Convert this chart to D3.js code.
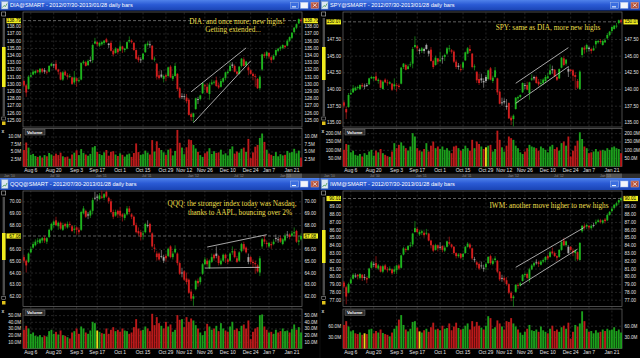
<!DOCTYPE html>
<html>
<head>
<meta charset="utf-8">
<script src="https://cdnjs.cloudflare.com/ajax/libs/d3/7.8.5/d3.min.js"></script>
<style>
body { margin: 0; background: #000; }
svg { display: block; }
</style>
</head>
<body>
<svg id="chart" width="640" height="358"></svg>
<script>
// trading days shown, 2012/08/01 - 2013/01/28
var dates = [
    "08/01","08/02","08/03","08/06","08/07","08/08","08/09","08/10","08/13","08/14","08/15","08/16","08/17","08/20","08/21","08/22","08/23","08/24","08/27","08/28","08/29","08/30","08/31",
    "09/04","09/05","09/06","09/07","09/10","09/11","09/12","09/13","09/14","09/17","09/18","09/19","09/20","09/21","09/24","09/25","09/26","09/27","09/28",
    "10/01","10/02","10/03","10/04","10/05","10/08","10/09","10/10","10/11","10/12","10/15","10/16","10/17","10/18","10/19","10/22","10/23","10/24","10/25","10/26","10/31",
    "11/01","11/02","11/05","11/06","11/07","11/08","11/09","11/12","11/13","11/14","11/15","11/16","11/19","11/20","11/21","11/23","11/26","11/27","11/28","11/29","11/30",
    "12/03","12/04","12/05","12/06","12/07","12/10","12/11","12/12","12/13","12/14","12/17","12/18","12/19","12/20","12/21","12/24","12/26","12/27","12/28","12/31",
    "01/02","01/03","01/04","01/07","01/08","01/09","01/10","01/11","01/14","01/15","01/16","01/17","01/18","01/22","01/23","01/24","01/25","01/28"
]
var tickDates = ["08/06","08/20","09/04","09/17","10/01","10/15","10/31","11/12","11/26","12/10","12/24","01/07","01/22"]
var tickLabels = ["Aug 6","Aug 20","Sep 3","Sep 17","Oct 1","Oct 15","Oct 29","Nov 12","Nov 26","Dec 10","Dec 24","Jan 7","Jan 21"]
var stripLabels = ["Jan '10","Jul '10","Jan '11","Jul '11","Jan '12","Jul '12","Jan '13"]

// DIA
var diaOpen = [130.4,129.8,129.3,131.0,131.3,131.5,131.9,131.6,132.1,131.9,131.7,131.7,132.5,132.6,132.8,132.0,131.6,130.6,131.7,131.2,
    131.0,130.9,130.2,130.8,130.4,130.6,132.9,133.0,132.6,133.3,133.3,135.6,135.8,135.3,135.5,135.7,136.2,135.4,135.7,134.6,
    134.3,134.9,134.6,135.2,134.7,134.9,135.9,136.0,135.7,134.7,133.7,133.4,133.4,134.4,135.4,135.5,135.3,133.4,132.8,131.2,
    131.3,130.7,131.2,131.1,132.4,130.7,131.1,131.4,129.4,128.3,128.3,128.1,127.8,125.8,125.4,126.5,127.9,127.9,128.7,129.8,
    129.6,128.6,130.0,130.2,130.5,129.8,129.6,130.3,130.8,131.5,131.8,132.7,132.5,131.7,131.4,132.5,133.4,132.6,132.3,131.9,
    131.4,131.1,130.7,129.4,132.0,134.1,133.9,134.3,133.7,133.4,134.0,134.6,134.9,135.0,135.3,135.3,136.0,136.4,137.2,137.8,
    138.4,138.9]
var diaHigh = [130.6,130.0,131.2,131.6,132.0,131.9,132.0,132.2,132.2,132.2,131.9,132.6,132.9,132.8,133.3,132.1,131.7,131.8,131.9,131.5,
    131.4,131.0,131.8,130.9,130.9,133.0,133.3,133.2,133.4,133.8,135.6,136.4,135.9,135.8,136.0,136.1,136.4,135.7,136.0,134.8,
    135.1,134.9,135.8,135.3,135.0,135.9,136.6,136.2,135.8,134.8,134.0,133.7,134.3,135.6,135.9,136.0,135.4,133.8,132.9,131.8,
    131.9,131.3,131.4,132.4,132.6,131.4,132.9,131.5,129.6,128.7,128.6,128.6,128.0,126.0,126.0,128.1,128.2,128.5,130.2,130.0,
    130.1,130.2,130.6,130.5,131.0,130.2,130.7,130.9,131.7,131.9,133.0,133.0,132.7,131.8,132.5,133.6,133.7,133.2,132.6,132.0,
    131.6,131.4,130.8,131.2,134.2,134.4,134.6,134.4,133.9,134.1,134.8,135.0,135.3,135.5,135.4,136.2,136.6,137.2,137.9,138.4,
    139.1,139.1]
var diaLow = [129.6,128.2,129.2,130.9,131.2,131.3,131.5,131.3,131.5,131.4,131.3,131.6,132.4,132.2,131.9,131.3,130.5,130.4,131.1,130.6,
    130.8,129.9,129.9,129.6,130.2,130.5,132.7,132.4,132.5,133.0,132.9,135.5,135.2,135.1,135.3,135.4,135.7,135.0,134.5,133.8,
    134.2,134.1,134.5,134.3,134.4,134.8,135.7,135.6,134.6,133.4,133.0,132.9,133.3,134.3,135.2,135.0,133.3,133.1,130.6,130.6,
    130.8,130.2,130.4,131.0,130.8,130.4,131.0,129.0,128.0,127.9,127.8,127.3,125.6,124.9,124.7,126.4,127.2,127.7,128.6,129.2,
    128.7,127.8,129.8,129.9,129.6,129.3,129.5,130.1,130.5,131.3,131.7,132.2,131.6,131.2,131.3,132.3,132.4,132.4,131.2,131.3,
    130.5,129.6,129.3,129.1,131.8,133.6,133.5,133.5,132.9,133.3,133.8,134.4,134.6,134.8,134.9,135.2,135.8,136.2,137.0,137.6,
    138.3,138.5]
var diaClose = [129.8,128.8,131.0,131.2,131.7,131.8,131.7,132.1,131.7,131.7,131.6,132.5,132.8,132.7,132.0,131.7,130.6,131.6,131.2,131.0,
    131.1,130.0,130.9,130.4,130.5,132.9,133.1,132.5,133.2,133.3,135.4,135.9,135.5,135.7,135.8,136.0,135.8,135.6,134.6,134.1,
    134.9,134.4,135.2,134.8,134.9,135.8,136.1,135.8,134.7,133.5,133.3,133.3,134.2,135.5,135.6,135.5,133.4,133.5,131.0,130.8,
    131.0,131.1,131.0,132.3,130.9,131.1,132.5,129.3,128.1,128.2,128.2,127.6,125.7,125.4,125.9,128.0,127.9,128.4,130.1,129.7,
    128.8,129.9,130.2,130.3,129.7,129.5,130.4,130.8,131.6,131.7,132.5,132.5,131.7,131.4,132.4,133.5,132.5,133.1,131.9,131.4,
    131.1,131.0,129.4,131.0,134.1,133.9,134.4,133.8,133.3,133.9,134.7,134.9,135.1,135.4,135.1,136.0,136.5,137.1,137.8,138.3,
    139.0,138.79]
var diaVol = [5.5,8.0,6.3,3.9,4.2,3.5,3.2,3.6,3.0,3.8,3.4,4.5,4.0,3.6,4.3,3.8,4.6,3.4,3.1,3.3,
    2.6,4.0,4.6,5.4,3.8,5.8,4.5,4.0,3.6,4.2,6.4,6.8,4.9,4.2,3.8,4.7,5.5,3.6,4.9,5.1,
    4.0,3.5,4.4,3.9,3.3,4.0,4.3,3.2,4.5,7.7,4.8,3.9,4.1,5.3,4.6,4.0,8.8,5.0,8.4,6.2,
    5.5,4.7,3.9,5.6,6.0,3.7,5.2,12.2,7.9,6.3,4.1,6.4,9.0,8.8,7.2,6.0,4.9,3.8,3.2,4.4,
    5.0,6.1,4.2,5.1,4.5,4.7,5.6,4.0,4.4,3.7,5.8,6.7,4.3,5.0,4.6,5.9,6.3,4.9,9.2,2.8,
    4.7,6.6,7.2,9.5,11.0,8.2,5.6,4.3,3.9,3.5,4.8,3.4,4.1,3.7,3.9,5.2,4.6,4.8,5.9,4.4,
    5.3,3.0]
var diaFlat = []
var diaTicks = [125,126,127,128,129,130,131,132,133,134,135,136,137,138]
var diaVolTicks = [2.5,5,7.5,10]
var diaTrend = [[["11/15",128.9],["12/20",135.0]], [["11/16",124.6],["12/24",133.2]]]
var diaNotes = ["DIA: and once more, new highs!", "Getting extended..."]

// SPY
var spyOpen = [138.0,137.0,137.3,139.2,139.5,139.8,140.2,140.0,140.6,140.5,140.6,140.7,141.6,141.6,141.9,141.2,141.3,140.0,141.4,141.0,
    140.8,140.8,140.4,140.6,140.5,140.8,143.3,143.6,143.0,143.6,143.8,146.3,146.4,145.7,145.7,145.7,146.6,145.3,145.9,144.2,
    143.6,144.6,144.2,144.6,144.8,145.3,146.0,145.8,145.6,144.1,143.5,143.0,143.2,144.3,145.3,146.0,145.3,143.3,142.6,141.5,
    141.6,141.0,141.8,141.5,143.1,141.2,141.8,141.6,139.6,138.0,138.2,137.3,137.9,135.7,135.5,137.0,138.6,138.8,139.5,140.6,
    140.6,139.4,141.4,141.8,141.8,141.1,140.8,140.9,141.2,141.6,142.2,143.0,142.9,141.8,141.6,143.2,144.6,143.8,142.6,142.9,
    142.8,142.1,141.2,140.0,145.1,146.2,146.0,146.0,146.0,145.8,146.7,147.0,147.2,146.6,147.0,147.6,148.1,148.7,149.0,149.4,
    149.9,150.3]
var spyHigh = [138.3,137.4,139.4,139.9,140.6,140.4,140.5,140.7,140.9,140.8,140.9,141.7,142.0,141.9,142.5,141.6,141.4,141.3,141.6,141.4,
    141.2,140.9,141.6,140.9,140.8,143.3,143.9,143.8,143.7,144.1,146.3,147.9,146.6,146.1,146.3,146.2,146.8,145.9,146.3,144.4,
    145.0,144.6,145.6,145.0,145.3,146.3,146.6,146.0,145.8,144.4,143.9,143.7,144.1,145.6,146.3,146.6,145.4,143.7,142.6,142.3,
    142.3,141.6,142.1,142.9,143.3,142.0,143.3,141.7,139.8,138.7,138.6,138.5,138.0,136.0,136.2,138.8,139.0,139.2,141.0,140.9,
    141.1,141.1,142.2,142.0,142.0,141.5,141.5,141.6,142.1,142.4,143.7,143.5,143.0,142.0,143.1,144.8,144.9,144.5,143.4,143.0,
    143.0,142.5,141.5,142.8,146.3,146.5,146.8,146.4,146.2,146.5,147.3,147.4,147.5,147.4,147.6,148.4,148.7,149.4,149.6,149.9,
    150.4,150.5]
var spyLow = [137.2,135.5,137.2,139.1,139.4,139.7,139.9,139.9,140.2,140.0,140.3,140.6,141.5,141.2,141.2,140.8,140.1,139.9,140.9,140.5,
    140.7,139.7,139.9,139.6,140.0,140.7,143.0,142.8,142.9,143.3,143.1,146.1,145.6,145.2,145.4,145.3,145.9,144.9,144.1,143.0,
    143.5,143.7,144.0,143.8,144.2,145.1,145.6,145.3,143.9,143.0,142.9,142.6,142.9,144.2,145.2,145.4,143.1,142.8,140.9,140.6,
    140.9,140.2,140.9,141.3,141.3,140.9,141.6,139.1,137.7,137.5,137.7,136.9,135.5,134.6,134.4,136.9,137.9,138.6,139.4,140.0,
    139.8,138.4,141.2,141.3,140.8,140.4,140.4,140.6,140.9,141.5,142.1,142.3,141.8,141.2,141.5,143.1,143.4,143.5,141.8,142.5,
    141.2,139.9,140.0,139.9,144.7,145.3,145.5,145.6,145.3,145.7,146.1,146.8,146.8,146.5,146.9,147.5,147.9,148.4,148.9,149.1,
    149.7,149.8]
var spyClose = [137.5,136.5,139.1,139.4,140.1,140.2,140.3,140.6,140.4,140.4,140.6,141.6,141.8,141.8,141.3,141.4,140.2,141.1,141.0,140.9,
    141.0,139.9,140.7,140.5,140.3,143.2,143.8,142.9,143.4,143.7,146.0,146.6,146.1,145.9,146.1,146.0,146.0,145.7,144.2,143.3,
    144.7,144.1,144.4,144.6,145.1,146.1,146.1,145.6,144.1,143.3,143.3,142.9,144.0,145.5,146.1,145.7,143.3,143.4,141.3,140.9,
    141.3,141.2,141.2,142.8,141.4,141.7,142.8,139.5,137.8,138.0,138.0,137.5,135.6,135.3,136.0,138.7,138.8,139.1,140.9,140.6,
    139.9,141.0,141.6,141.6,140.9,140.7,140.9,141.4,141.8,141.9,142.8,142.8,141.9,141.4,143.0,144.7,143.6,144.4,143.0,142.7,
    142.0,141.8,140.2,142.6,146.2,145.9,146.6,146.2,145.7,146.1,147.2,147.2,147.1,147.2,147.3,148.1,148.6,149.3,149.5,149.5,
    150.3,150.07]
var spyVol = [100,135,130,85,95,70,65,75,60,80,70,90,100,65,95,85,105,80,70,62,
    58,90,140,110,130,145,125,110,95,120,200,180,110,95,90,105,140,90,125,150,
    110,120,105,120,100,110,95,80,120,125,110,95,105,125,110,95,160,110,150,135,
    120,105,115,125,130,90,105,215,160,115,90,125,180,170,160,125,110,85,75,90,
    110,130,120,115,110,95,120,110,100,85,120,130,105,115,95,140,150,125,180,60,
    95,125,155,205,165,120,110,80,85,90,105,90,95,100,95,110,100,115,120,110,
    105,80]
var spyFlat = [62]
var spyTicks = [135,137.5,140,142.5,145,147.5]
var spyVolTicks = [50,100,150,200]
var spyTrend = [[["11/19",140.86],["12/21",146.2]], [["11/19",137.86],["12/21",143.35]]]
var spyNotes = ["SPY: same as DIA, more new highs"]

// QQQ
var qqqOpen = [65.3,65.0,64.9,65.7,66.1,66.3,66.6,66.5,66.7,66.9,66.6,67.0,67.6,68.0,68.4,67.9,68.2,67.6,68.1,67.8,
    68.1,67.9,67.6,67.8,67.6,67.6,69.0,69.2,68.9,68.8,69.2,70.3,70.4,70.2,70.4,70.3,70.8,70.3,70.0,69.1,
    68.8,69.2,69.2,68.9,68.6,68.9,69.4,68.9,68.7,68.0,67.5,67.4,67.2,67.4,68.0,68.1,67.3,66.1,65.6,65.6,
    65.4,65.0,65.4,65.4,66.2,65.3,65.7,65.6,64.8,64.0,64.1,63.5,63.4,62.4,61.8,62.6,63.3,63.2,63.9,64.7,
    65.0,64.4,64.9,65.5,65.6,65.4,64.7,65.0,65.5,65.1,65.0,65.7,65.8,65.2,65.0,65.8,66.4,66.1,64.9,65.3,
    64.9,64.8,64.6,64.0,66.2,66.8,66.5,66.2,66.4,66.4,66.9,66.8,66.9,66.4,66.7,67.2,67.2,67.1,67.3,67.5,
    66.6,66.8]
var qqqHigh = [65.5,65.1,65.7,66.2,66.6,66.8,66.9,66.9,67.0,67.1,67.0,67.7,68.2,68.4,68.7,68.3,68.3,68.2,68.2,68.3,
    68.3,68.0,68.0,67.9,67.8,69.2,69.6,69.3,69.1,69.3,70.3,70.8,70.6,70.7,70.9,70.7,70.9,70.4,70.2,69.3,
    69.3,69.3,69.5,69.0,69.0,69.6,69.6,69.0,68.8,68.2,67.8,67.6,67.5,68.2,68.4,68.2,67.4,66.4,65.8,65.7,
    65.9,65.5,65.6,66.1,66.3,65.8,66.3,65.7,64.9,64.4,64.2,64.0,63.5,62.6,62.2,63.4,63.5,63.7,64.8,65.3,
    65.2,65.1,65.6,65.6,66.2,65.5,65.2,65.6,65.6,65.2,65.7,66.2,66.0,65.4,65.8,66.5,66.6,66.2,65.6,65.4,
    65.1,65.0,64.7,65.4,66.9,67.1,66.7,66.6,66.6,66.8,67.2,67.0,67.1,66.9,67.3,67.5,67.3,67.5,67.8,67.6,
    67.1,67.3]
var qqqLow = [64.8,64.0,64.8,65.6,66.0,66.2,66.4,66.4,66.5,66.5,66.4,66.9,67.5,67.8,67.9,67.6,67.6,67.5,67.7,67.7,
    67.8,67.4,67.3,67.2,67.2,67.5,68.9,68.6,68.5,68.6,68.9,70.1,70.0,70.1,70.2,70.1,70.3,69.8,69.0,68.5,
    68.7,68.6,68.6,68.3,68.4,68.8,68.9,68.5,67.9,67.3,67.1,66.7,66.8,67.3,67.8,67.3,66.1,65.7,65.0,65.0,
    65.2,64.8,64.9,65.3,65.2,65.1,65.6,64.6,63.8,63.6,63.3,63.0,62.2,61.6,61.2,62.5,62.8,63.0,63.8,64.6,
    64.5,64.3,64.8,65.0,65.2,64.6,64.6,64.9,64.8,64.7,64.9,65.5,65.2,64.8,64.9,65.7,65.8,65.6,64.7,64.7,
    64.4,63.9,64.0,63.7,66.0,66.4,66.1,66.1,66.0,66.3,66.6,66.5,66.5,66.3,66.6,66.9,66.8,67.0,67.1,66.5,
    66.3,66.7]
var qqqClose = [65.0,64.6,65.6,66.0,66.4,66.6,66.7,66.8,66.9,66.7,66.9,67.6,68.1,68.3,68.0,68.2,67.7,68.0,67.9,68.1,
    68.0,67.5,67.7,67.6,67.4,69.1,69.4,68.7,68.8,69.2,70.1,70.3,70.3,70.5,70.3,70.6,70.4,70.0,69.1,68.7,
    69.1,68.9,68.8,68.7,68.9,69.4,69.1,68.7,68.0,67.4,67.3,67.0,67.3,68.1,68.0,67.4,66.2,66.0,65.3,65.1,
    65.4,65.3,65.2,66.0,65.3,65.6,66.0,64.8,63.9,64.0,63.4,63.2,62.3,61.8,62.0,63.3,63.1,63.6,64.7,65.1,
    64.7,65.0,65.3,65.2,65.4,64.8,65.0,65.5,65.2,64.9,65.6,65.8,65.3,64.9,65.7,66.4,66.0,65.7,65.3,64.9,
    64.8,64.7,64.1,65.2,66.8,66.6,66.4,66.5,66.3,66.6,66.9,66.8,66.6,66.8,67.1,67.2,67.0,67.3,67.4,66.6,
    66.7,67.08]
var qqqVol = [28,34,30,22,24,19,18,20,17,19,18,26,28,22,25,21,27,20,19,17,
    15,24,26,30,22,33,30,24,22,27,40,38,27,25,23,22,30,22,28,32,
    26,28,25,30,27,26,22,24,32,44,30,27,28,33,30,26,52,35,47,38,
    34,30,40,33,36,25,28,50,43,44,32,47,40,45,42,35,30,24,20,26,
    37,33,28,30,34,26,38,30,27,25,33,40,28,30,26,34,36,30,42,14,
    25,30,32,50,51,33,28,24,25,22,28,24,26,30,26,27,24,29,36,28,
    32,24]
var qqqFlat = [32]
var qqqTicks = [62,63,64,65,66,68,69,70]
var qqqVolTicks = [10,20,30,40,50]
var qqqTrend = [[["11/27",66.15],["01/04",67.19]], [["11/26",64.38],["12/31",64.44]]]
var qqqNotes = ["QQQ: the stronger index today was Nasdaq,", "thanks to AAPL, bouncing over 2%"]

// IWM
var iwmOpen = [79.2,78.6,77.9,79.1,79.7,80.0,80.2,79.8,80.2,79.9,79.8,79.8,81.1,81.6,81.7,81.0,81.3,80.6,81.4,80.9,
    80.8,80.9,80.6,80.8,81.4,81.1,82.8,83.5,83.4,83.9,84.1,85.7,86.1,85.4,85.6,85.6,85.5,85.5,84.6,84.0,
    83.4,84.0,83.8,83.9,83.3,83.8,84.4,84.1,83.8,83.0,82.6,82.9,82.5,83.0,83.8,84.1,83.6,82.1,81.8,81.6,
    81.4,81.0,81.2,81.7,82.6,81.6,82.1,82.0,80.6,79.8,79.8,79.5,79.0,77.9,77.2,78.0,78.9,78.8,79.4,80.2,
    80.3,79.7,80.9,81.4,81.8,81.8,81.5,81.9,82.1,82.6,82.5,83.2,83.0,82.6,82.5,83.4,84.6,84.0,83.0,83.8,
    83.3,83.0,83.1,82.1,85.8,86.5,86.4,86.5,86.2,86.6,86.8,87.0,87.2,86.9,87.3,87.2,87.9,88.4,88.8,89.1,
    89.5,89.8]
var iwmHigh = [79.4,78.8,79.2,79.9,80.4,80.4,80.3,80.4,80.3,80.3,80.0,81.1,82.0,81.9,82.6,81.6,81.4,81.5,81.6,81.2,
    81.3,81.0,81.3,81.5,81.6,82.8,83.8,83.7,84.0,84.4,85.6,87.1,86.3,85.9,86.0,85.8,86.1,85.6,84.7,84.1,
    84.2,84.1,84.4,84.0,83.9,84.6,85.1,84.2,83.9,83.1,83.0,83.0,83.0,83.9,84.4,84.3,83.7,82.5,82.0,81.8,
    81.9,81.5,81.8,82.6,82.8,82.3,82.6,82.1,80.7,80.2,80.0,79.9,79.1,78.1,77.6,79.0,79.1,79.3,80.3,80.5,
    80.5,81.1,81.6,81.9,82.2,82.0,82.1,82.3,82.6,82.8,83.3,83.7,83.2,82.7,83.5,84.6,84.9,84.6,84.0,83.9,
    83.6,83.5,83.2,84.4,86.6,86.8,86.8,86.6,86.7,86.9,87.3,87.4,87.4,87.3,87.5,88.1,88.4,88.9,89.3,89.6,
    89.9,90.2]
var iwmLow = [78.5,76.4,77.8,79.0,79.6,79.8,79.6,79.6,79.4,79.5,79.1,79.7,81.0,81.2,81.0,80.8,80.5,80.4,80.8,80.5,
    80.7,80.2,80.3,80.3,80.8,81.0,82.7,83.1,83.3,83.7,83.8,85.6,85.5,85.2,85.3,85.0,85.3,84.5,83.6,83.1,
    83.3,83.2,83.4,83.1,83.1,83.7,84.0,83.6,82.8,82.3,82.4,82.2,82.1,82.9,83.7,83.5,82.1,81.8,81.1,80.8,
    81.0,80.6,80.8,81.6,81.5,81.4,81.8,80.4,79.4,79.3,79.2,78.8,77.7,76.8,76.1,77.9,78.4,78.7,79.3,79.9,
    79.6,79.2,80.8,81.2,81.5,81.2,81.4,81.7,81.8,82.1,82.4,82.8,82.5,82.0,82.4,83.3,83.9,83.8,82.9,83.2,
    82.6,82.0,82.0,82.0,85.6,86.0,86.1,86.0,86.0,86.3,86.6,86.9,86.8,86.7,86.8,87.1,87.8,88.2,88.6,89.0,
    89.2,89.6]
var iwmClose = [78.7,77.4,79.0,79.6,80.2,80.1,80.0,80.3,79.8,79.8,79.6,81.0,81.8,81.6,81.1,81.4,80.6,81.3,80.9,80.8,
    81.0,80.4,80.9,81.4,81.0,82.7,83.6,83.4,83.9,84.0,85.5,86.2,85.7,85.7,85.8,85.3,85.6,84.6,84.0,83.3,
    84.0,83.6,83.8,83.4,83.7,84.5,84.2,83.8,83.0,82.6,82.8,82.4,82.9,83.8,84.2,83.7,82.3,82.2,81.5,81.0,
    81.3,81.1,81.6,82.5,81.7,82.0,82.3,80.6,79.6,79.8,79.5,79.0,77.9,77.2,77.4,78.9,78.8,79.1,80.2,80.3,
    79.8,80.9,81.4,81.7,81.8,81.6,81.9,82.1,82.5,82.3,83.1,83.0,82.6,82.4,83.4,84.4,84.0,84.5,83.8,83.4,
    83.1,83.3,82.2,84.3,86.5,86.3,86.6,86.3,86.5,86.6,87.0,87.2,87.0,87.2,87.1,87.9,88.3,88.7,89.2,89.4,
    89.8,90.01]
var iwmVol = [62,72,58,45,48,40,38,42,36,40,38,50,52,40,46,42,50,41,38,36,
    32,42,52,60,76,88,62,50,45,52,70,72,55,45,42,48,52,44,56,68,
    50,52,48,60,52,54,66,48,58,68,54,50,52,60,66,50,72,58,70,60,
    55,50,60,85,80,52,56,74,66,58,50,72,70,80,66,58,50,42,36,44,
    52,62,48,46,50,44,58,48,44,40,52,60,46,50,44,56,60,52,68,26,
    44,62,58,66,98,72,52,44,46,40,48,42,44,50,46,52,48,50,56,46,
    50,42]
var iwmFlat = [9,33]
var iwmTicks = [77,78,79,80,81,82,83,84,85,86,87,88,89]
var iwmVolTicks = [30,60]
var iwmTrend = [[["11/19",81.16],["01/03",86.3]], [["11/21",78.85],["12/28",83.5]]]
var iwmNotes = ["IWM: another move higher to new highs"]

// layout of the two rows of windows
var rows = [
    { oy: 0, titleH: 10.5, plotTop: 12, plotBot: 127, volTop: 128.5, volBot: 166.5, labelY: 171.5 },
    { oy: 178, titleH: 12, plotTop: 191, plotBot: 306.5, volTop: 309, volBot: 348.5, labelY: 354 }
]

var panels = [
    { ox: 0, row: 0, title: "DIA@SMART - 2012/07/30-2013/01/28 daily bars",
      open: diaOpen, high: diaHigh, low: diaLow, close: diaClose, vol: diaVol, flat: diaFlat,
      ticks: diaTicks, volTicks: diaVolTicks, trend: diaTrend, notes: diaNotes,
      yDomain: [124, 140], yRange: [127.1, 11.9], vMax: 12.67, scroll: [47, 87],
      noteX: [237, 233], noteY: [23.5, 31.5] },
    { ox: 320, row: 0, title: "SPY@SMART - 2012/07/30-2013/01/28 daily bars",
      open: spyOpen, high: spyHigh, low: spyLow, close: spyClose, vol: spyVol, flat: spyFlat,
      ticks: spyTicks, volTicks: spyVolTicks, trend: spyTrend, notes: spyNotes,
      yDomain: [134.2, 151.5], yRange: [127.7, 12.3], vMax: 228, scroll: [47, 80],
      noteX: [228], noteY: [29.5] },
    { ox: 0, row: 1, title: "QQQ@SMART - 2012/07/30-2013/01/28 daily bars",
      open: qqqOpen, high: qqqHigh, low: qqqLow, close: qqqClose, vol: qqqVol, flat: qqqFlat,
      ticks: qqqTicks, volTicks: qqqVolTicks, trend: qqqTrend, notes: qqqNotes,
      yDomain: [61.2, 70.87], yRange: [305.8, 191], vMax: 59.2, scroll: [233, 260],
      noteX: [232, 240], noteY: [205.5, 214.5] },
    { ox: 320, row: 1, title: "IWM@SMART - 2012/07/30-2013/01/28 daily bars",
      open: iwmOpen, high: iwmHigh, low: iwmLow, close: iwmClose, vol: iwmVol, flat: iwmFlat,
      ticks: iwmTicks, volTicks: iwmVolTicks, trend: iwmTrend, notes: iwmNotes,
      yDomain: [76.2, 91], yRange: [305.9, 190.8], vMax: 104, scroll: [230, 263],
      noteX: [229], noteY: [207.5] }
]

var font = "Liberation Sans, Arial, sans-serif"
var svg = d3.select("#chart")

var grad = svg.append("defs").append("linearGradient")
    .attr("id", "titleGrad")
    .attr("x1", 0).attr("y1", 0).attr("x2", 0).attr("y2", 1)
grad.append("stop").attr("offset", "0%").attr("stop-color", "#4f82ea")
grad.append("stop").attr("offset", "45%").attr("stop-color", "#2a5ad4")
grad.append("stop").attr("offset", "100%").attr("stop-color", "#1a44b4")

function barColor(p, i) {
    var prev = i > 0 ? p.close[i - 1] : p.open[i]
    if (p.close[i] > p.open[i] && p.close[i] >= prev) return "#1eb41e"
    if (p.close[i] < p.open[i] && p.close[i] < prev) return "#d21e1e"
    return "#a9a9a9"
}

function volColor(p, i) {
    if (p.flat.indexOf(i) >= 0) return "#ecd91c"
    var prev = i > 0 ? p.close[i - 1] : p.open[i]
    return p.close[i] >= prev ? "#1c9f1c" : "#bb1a1a"
}

function styleAxis(sel, size) {
    sel.select(".domain").remove()
    sel.attr("font-family", font).attr("font-size", size)
    sel.selectAll("text").attr("fill", "#e2e2e2")
}

function drawPanel(p) {
    var L = rows[p.row]
    var g = svg.append("g").attr("transform", "translate(" + p.ox + ",0)")
    var x0 = 23, x1 = 302

    var x = d3.scaleBand().domain(dates).range([x0, x1]).paddingInner(0.18)
    var bw = x.bandwidth()
    var y = d3.scaleLinear().domain(p.yDomain).range(p.yRange)
    var vy = d3.scaleLinear().domain([0, p.vMax]).range([L.volBot, L.volTop])

    g.append("rect")
        .attr("x", 0).attr("y", L.oy)
        .attr("width", 320).attr("height", 180)
        .attr("fill", "#000")

    // window title bar
    g.append("rect")
        .attr("x", 0).attr("y", L.oy)
        .attr("width", 320).attr("height", L.titleH)
        .attr("fill", "url(#titleGrad)")
    g.append("rect")
        .attr("x", 1.5).attr("y", L.oy + 1.5)
        .attr("width", 6.5).attr("height", L.titleH - 3)
        .attr("fill", "#dfe8f2").attr("stroke", "#7d9cc4").attr("stroke-width", 0.5)
    g.append("path")
        .attr("d", "M2.5," + (L.oy + L.titleH - 3) + " l1.5,-2 l1.5,1 l1.5,-3")
        .attr("fill", "none").attr("stroke", "#2f8f3a").attr("stroke-width", 0.7)
    g.append("text")
        .attr("x", 10).attr("y", L.oy + L.titleH / 2 + 2)
        .attr("fill", "#ffffff")
        .attr("font-family", font).attr("font-size", 5.6)
        .text(p.title)

    var by = L.oy + L.titleH / 2 - 3
    g.append("rect").attr("x", 290.5).attr("y", by).attr("width", 8).attr("height", 6)
        .attr("fill", "#3b6ee0").attr("stroke", "#a8c0f0").attr("stroke-width", 0.5)
    g.append("line").attr("x1", 292).attr("x2", 296).attr("y1", by + 4.6).attr("y2", by + 4.6)
        .attr("stroke", "#fff").attr("stroke-width", 1)
    g.append("rect").attr("x", 300.5).attr("y", by).attr("width", 7.5).attr("height", 6)
        .attr("fill", "#f3f5fa").attr("stroke", "#a8c0f0").attr("stroke-width", 0.5)
    g.append("rect").attr("x", 311).attr("y", by).attr("width", 7.5).attr("height", 6)
        .attr("fill", "#b5533c").attr("stroke", "#e7a48f").attr("stroke-width", 0.5)
    g.append("path")
        .attr("d", "M312.8," + (by + 1.3) + " l4,3.4 M316.8," + (by + 1.3) + " l-4,3.4")
        .attr("stroke", "#fff").attr("stroke-width", 0.7)

    // left strip
    g.append("rect").attr("x", 1.7).attr("y", L.plotTop).attr("width", 4).attr("height", 4)
        .attr("fill", "none").attr("stroke", "#bbbbbb").attr("stroke-width", 0.6)
    g.append("rect").attr("x", 2.6).attr("y", L.plotTop + 6).attr("width", 2.4)
        .attr("height", L.plotBot - L.plotTop - 17)
        .attr("fill", "#4c4c4c")
    g.append("rect").attr("x", 2).attr("y", p.scroll[0]).attr("width", 3.6)
        .attr("height", p.scroll[1] - p.scroll[0])
        .attr("fill", "#f0ec1e")
    g.append("rect").attr("x", 1.8).attr("y", L.plotBot - 10).attr("width", 3.8).attr("height", 3)
        .attr("fill", "none").attr("stroke", "#bbbbbb").attr("stroke-width", 0.5)
    g.append("rect").attr("x", 2).attr("y", L.plotBot - 5.5).attr("width", 3.5).attr("height", 3.5)
        .attr("fill", "#e0c21a")
    g.append("text").attr("x", 1.5).attr("y", L.volTop + 4)
        .attr("fill", "#cccccc").attr("font-family", font).attr("font-size", 5).attr("font-weight", "bold")
        .text("x")

    // grid lines
    var hGrid = g.append("g").attr("transform", "translate(" + x0 + ",0)")
        .call(d3.axisLeft(y).tickValues(p.ticks).tickSize(-(x1 - x0)).tickFormat(""))
    hGrid.select(".domain").remove()
    hGrid.selectAll("line").attr("stroke", "#3d3d3d").attr("stroke-width", 0.6).attr("stroke-dasharray", "2,2")

    var vGrid = g.append("g").attr("transform", "translate(" + x0 + ",0)")
        .call(d3.axisLeft(vy).tickValues(p.volTicks).tickSize(-(x1 - x0)).tickFormat(""))
    vGrid.select(".domain").remove()
    vGrid.selectAll("line").attr("stroke", "#3d3d3d").attr("stroke-width", 0.6).attr("stroke-dasharray", "2,2")

    var xGrid = g.append("g").attr("transform", "translate(0," + L.volBot + ")")
        .call(d3.axisBottom(x).tickValues(tickDates).tickSize(-(L.volBot - L.plotTop)).tickFormat(""))
    xGrid.select(".domain").remove()
    xGrid.selectAll("line").attr("stroke", "#3d3d3d").attr("stroke-width", 0.6).attr("stroke-dasharray", "2,2")

    // pane borders
    g.append("rect")
        .attr("x", x0).attr("y", L.plotTop)
        .attr("width", x1 - x0).attr("height", L.plotBot - L.plotTop)
        .attr("fill", "none").attr("stroke", "#6c6c6c").attr("stroke-width", 0.7)
    g.append("rect")
        .attr("x", x0).attr("y", L.volTop)
        .attr("width", x1 - x0).attr("height", L.volBot - L.volTop)
        .attr("fill", "none").attr("stroke", "#6c6c6c").attr("stroke-width", 0.7)

    // current price line
    var last = p.close[p.close.length - 1]
    g.append("line")
        .attr("x1", x0).attr("x2", x1)
        .attr("y1", y(last)).attr("y2", y(last))
        .attr("stroke", "#a0a0a0").attr("stroke-width", 0.6).attr("stroke-dasharray", "3,2")

    // candles
    var bars = g.append("g").selectAll("g")
        .data(dates)
        .enter()
        .append("g")
    bars.append("line")
        .attr("x1", d => x(d) + bw / 2)
        .attr("x2", d => x(d) + bw / 2)
        .attr("y1", (d, i) => y(p.high[i]))
        .attr("y2", (d, i) => y(p.low[i]))
        .attr("stroke", (d, i) => barColor(p, i))
        .attr("stroke-width", 0.6)
    bars.append("rect")
        .attr("x", d => x(d))
        .attr("y", (d, i) => y(Math.max(p.open[i], p.close[i])))
        .attr("width", bw)
        .attr("height", (d, i) => Math.max(0.9, Math.abs(y(p.open[i]) - y(p.close[i]))))
        .attr("fill", (d, i) => barColor(p, i))

    // volume
    g.append("g").selectAll("rect")
        .data(dates)
        .enter()
        .append("rect")
        .attr("x", d => x(d))
        .attr("y", (d, i) => vy(p.vol[i]))
        .attr("width", bw)
        .attr("height", (d, i) => L.volBot - vy(p.vol[i]))
        .attr("fill", (d, i) => volColor(p, i))

    g.append("rect")
        .attr("x", x0 + 2).attr("y", L.volTop + 1)
        .attr("width", 20).attr("height", 5.5)
        .attr("fill", "#2c2c2c").attr("stroke", "#8a8a8a").attr("stroke-width", 0.4)
    g.append("text")
        .attr("x", x0 + 4).attr("y", L.volTop + 5.2)
        .attr("fill", "#ffffff").attr("font-family", font)
        .attr("font-size", 4.4).attr("font-weight", "bold")
        .text("Volume")

    // trend lines
    p.trend.forEach(function (t) {
        g.append("line")
            .attr("x1", x(t[0][0]) + bw / 2).attr("y1", y(t[0][1]))
            .attr("x2", x(t[1][0]) + bw / 2).attr("y2", y(t[1][1]))
            .attr("stroke", "#cfcfcf").attr("stroke-width", 0.8)
    })

    // price labels, both sides
    var fmt = d3.format(".2f")
    var leftAxis = g.append("g").attr("transform", "translate(21,0)")
        .call(d3.axisLeft(y).tickValues(p.ticks).tickSize(0).tickPadding(0).tickFormat(fmt))
    styleAxis(leftAxis, 4.6)
    var rightAxis = g.append("g").attr("transform", "translate(304.5,0)")
        .call(d3.axisRight(y).tickValues(p.ticks).tickSize(0).tickPadding(0).tickFormat(fmt))
    styleAxis(rightAxis, 4.6)

    var vfmt = function (d) { return d3.format(".1f")(d) + "M" }
    var leftVol = g.append("g").attr("transform", "translate(21,0)")
        .call(d3.axisLeft(vy).tickValues(p.volTicks).tickSize(0).tickPadding(0).tickFormat(vfmt))
    styleAxis(leftVol, 4.6)
    var rightVol = g.append("g").attr("transform", "translate(304.5,0)")
        .call(d3.axisRight(vy).tickValues(p.volTicks).tickSize(0).tickPadding(0).tickFormat(vfmt))
    styleAxis(rightVol, 4.6)

    // last price tags
    ;[[6.5, "end", 20.8], [303.5, "start", 304.5]].forEach(function (s) {
        g.append("rect")
            .attr("x", s[0]).attr("y", y(last) - 2.6)
            .attr("width", 14.5).attr("height", 5.2)
            .attr("fill", "#f2ee22")
        g.append("text")
            .attr("x", s[2]).attr("y", y(last) + 1.6)
            .attr("text-anchor", s[1])
            .attr("fill", "#000").attr("font-family", font).attr("font-size", 4.6)
            .text(fmt(last))
    })

    // date labels
    var xAxis = g.append("g").attr("transform", "translate(0," + L.labelY + ")")
        .call(d3.axisBottom(x).tickValues(tickDates).tickSize(0).tickPadding(0)
            .tickFormat(function (d, i) { return tickLabels[i] }))
    styleAxis(xAxis, 5)
    xAxis.selectAll("text").attr("y", 0).attr("dy", 0)

    // comment text
    p.notes.forEach(function (n, i) {
        g.append("text")
            .attr("x", p.noteX[i]).attr("y", p.noteY[i])
            .attr("text-anchor", "middle")
            .attr("fill", "#ebdf4a")
            .attr("font-family", "Liberation Serif, Times New Roman, serif")
            .attr("font-size", 7.3)
            .text(n)
    })

    // overview strip under the top windows
    if (p.row == 0) {
        g.append("rect")
            .attr("x", 0).attr("y", 173.6)
            .attr("width", 320).attr("height", 4.4)
            .attr("fill", "#2e2e2e")
        g.append("rect")
            .attr("x", 286).attr("y", 173.6)
            .attr("width", 16).attr("height", 4.4)
            .attr("fill", "#555555")
        stripLabels.forEach(function (s, i) {
            g.append("text")
                .attr("x", 4 + i * 46).attr("y", 177.2)
                .attr("fill", "#8c8c8c").attr("font-family", font).attr("font-size", 3.4)
                .text(s)
        })
    }
}

panels.forEach(drawPanel)

svg.append("line")
    .attr("x1", 320).attr("x2", 320).attr("y1", 0).attr("y2", 358)
    .attr("stroke", "#1a1a1a").attr("stroke-width", 0.6)
</script>
</body>
</html>
